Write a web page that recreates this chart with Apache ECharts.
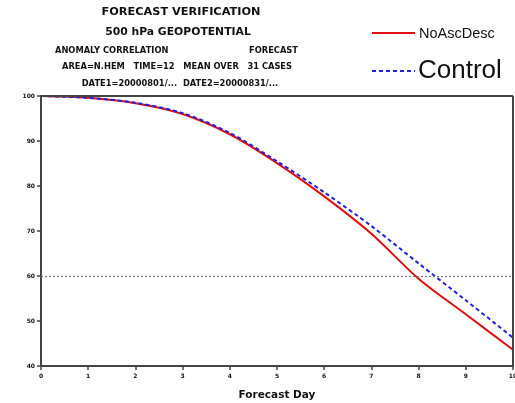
<!DOCTYPE html>
<html><head><meta charset="utf-8">
<script src="https://cdn.jsdelivr.net/npm/echarts@6/dist/echarts.min.js"></script>
<style>html,body{margin:0;padding:0;background:#fff}#c{width:515px;height:403px}</style>
</head><body><div id="c"></div>
<script>
const days = [0,1,2,3,4,5,6,7,8,9,10];
const noAscDesc = [100, 99.6, 98.4, 96.0, 91.5, 85.1, 77.7, 69.4, 59.4, 51.5, 43.6];
const control   = [100, 99.6, 98.5, 96.2, 91.8, 85.5, 78.6, 71.1, 62.8, 54.6, 46.3];
const yTicks = [40,50,60,70,80,90,100];
const refLevel = 60;
const titleLines = ['FORECAST VERIFICATION','500 hPa GEOPOTENTIAL'];
const infoLines = ['AREA=N.HEM   TIME=12   MEAN OVER   31 CASES','DATE1=20000801/...  DATE2=20000831/...'];
const seriesNames = ['NoAscDesc','Control'];

const chart = echarts.init(document.getElementById('c'));
const F = 'DejaVu Sans';
function t(text, x, y, size, align){
  return {text:text, left:x, top:y, textAlign:align||'center', padding:0,
    textStyle:{fontFamily:F, fontWeight:'bold', fontSize:size, color:'#111'}};
}
chart.setOption({
  animation:false,
  backgroundColor:'#fff',
  title:[
    t(titleLines[0],181,7,11.3),
    t(titleLines[1],178,27,10.8),
    t('ANOMALY CORRELATION',55,47,8.3,'left'),
    t('FORECAST',298,47,8.3,'right'),
    t(infoLines[0],177,63,8.3),
    t(infoLines[1],180,80,8.3)
  ],
  graphic:[
    {type:'line', shape:{x1:372,y1:33,x2:415,y2:33}, style:{stroke:'#e01010', lineWidth:2}},
    {type:'text', left:419, top:26, style:{text:seriesNames[0], fontFamily:'Liberation Sans', fontSize:14.5, fill:'#111'}},
    {type:'line', shape:{x1:372,y1:71,x2:415,y2:71}, style:{stroke:'#2020e0', lineWidth:2, lineDash:[4,3]}},
    {type:'text', left:418, top:58, style:{text:seriesNames[1], fontFamily:'Liberation Sans', fontSize:26, fill:'#111'}}
  ],
  grid:{left:41, right:2, top:96, bottom:37, show:false, outerBoundsMode:'none', containLabel:false},
  xAxis:{type:'value', min:0, max:10, interval:1, name:'Forecast Day', nameLocation:'middle', nameGap:24,
    nameTextStyle:{fontFamily:F, fontWeight:'bold', fontSize:10.5, color:'#111'},
    axisLine:{show:true, onZero:false, lineStyle:{color:'#444', width:2}},
    axisTick:{show:true, length:4, lineStyle:{color:'#444', width:1.5}},
    axisLabel:{fontFamily:F, fontWeight:'bold', fontSize:6, color:'#111', margin:7},
    splitLine:{show:false}},
  yAxis:{type:'value', min:40, max:100, interval:10,
    axisLine:{show:true, lineStyle:{color:'#444', width:2}},
    axisTick:{show:true, length:4, lineStyle:{color:'#444', width:1.5}},
    axisLabel:{fontFamily:F, fontWeight:'bold', fontSize:6, color:'#111', margin:6},
    splitLine:{show:false}},
  series:[
    {name:seriesNames[0], type:'line', smooth:0.3, symbol:'none', data:days.map((d,i)=>[d,noAscDesc[i]]),
      lineStyle:{color:'#e01010', width:2}, itemStyle:{color:'#e01010'}, z:2,
      markLine:{silent:true, symbol:'none', label:{show:false}, lineStyle:{color:'#777', type:[2,2], width:1.2}, data:[{yAxis:refLevel}]}},
    {name:seriesNames[1], type:'line', smooth:0.3, symbol:'none', data:days.map((d,i)=>[d,control[i]]),
      lineStyle:{color:'#2020e0', width:2, type:[4,3]}, itemStyle:{color:'#2020e0'}, z:3,
      markLine:{silent:true, symbol:'none', label:{show:false}, lineStyle:{color:'#444', width:2, type:'solid'},
        data:[[{coord:[0,100]},{coord:[10,100]}],[{coord:[10,40]},{coord:[10,100]}]]}}
  ]
});
</script></body></html>
